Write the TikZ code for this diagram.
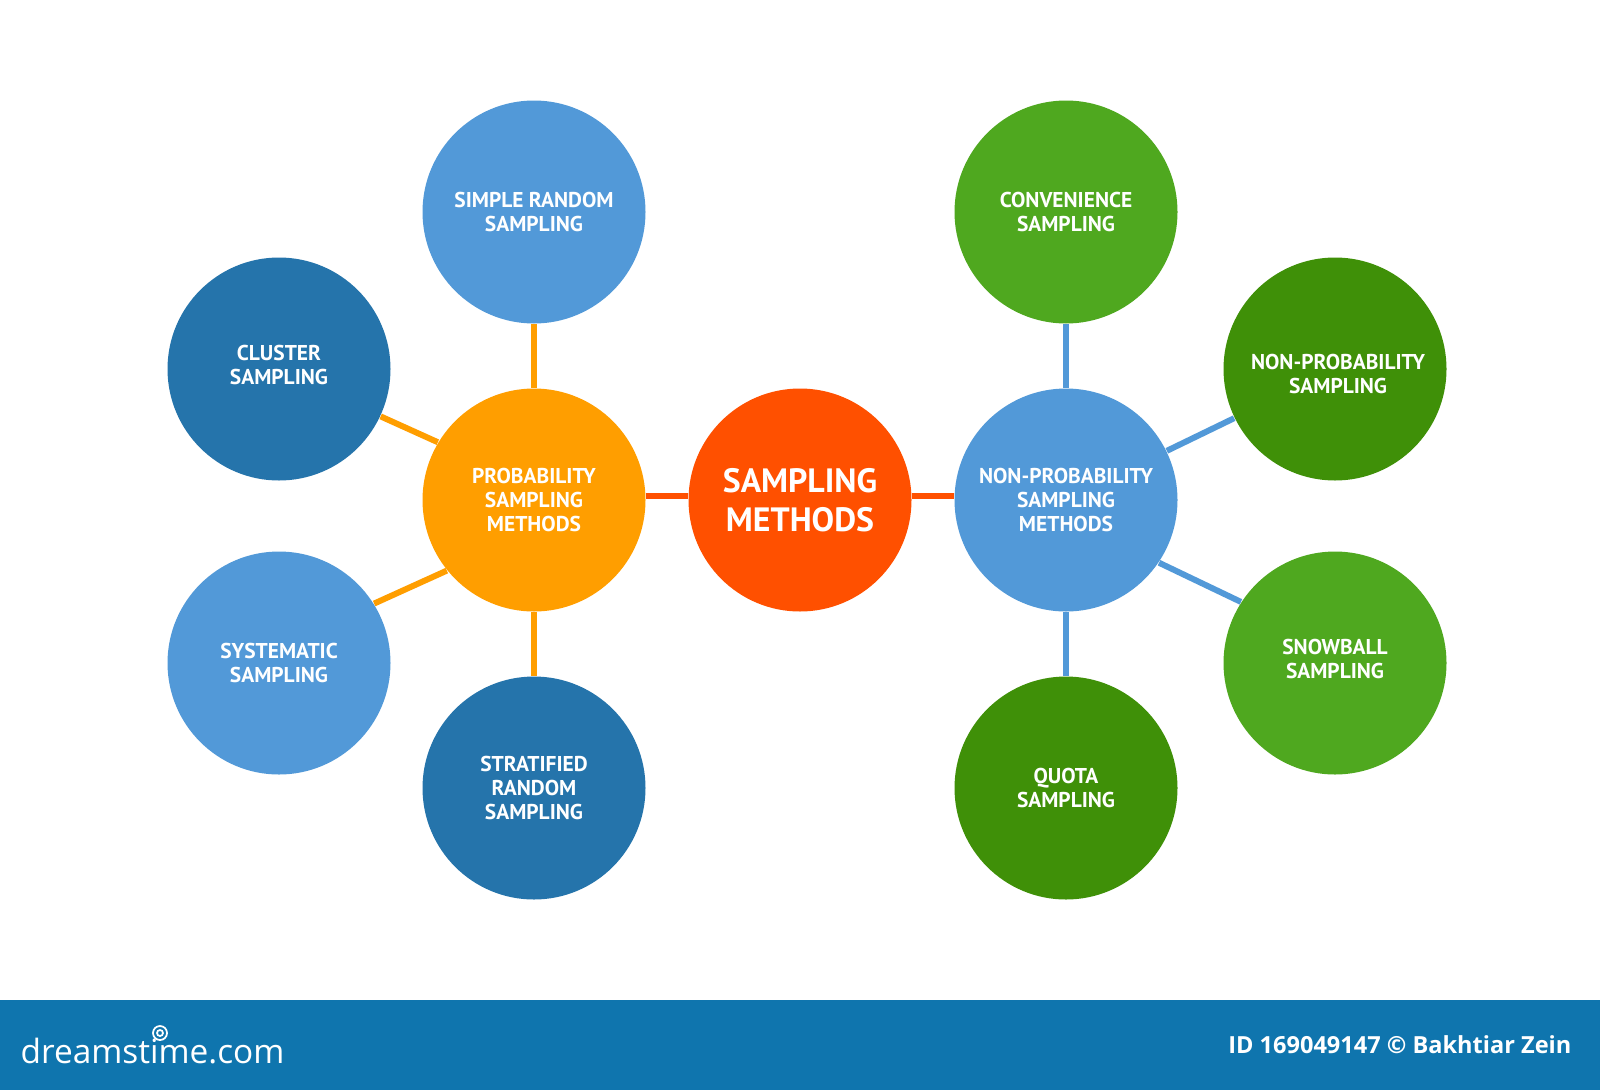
\documentclass[tikz,border=0pt]{standalone}
\usepackage{fontspec}
\setmainfont{PT Sans}
\newfontfamily\footfont{Open Sans}
\definecolor{skyblue}{HTML}{5299D8}
\definecolor{deepblue}{HTML}{2574AB}
\definecolor{amber}{HTML}{FF9E00}
\definecolor{redorange}{HTML}{FF5000}
\definecolor{leafgreen}{HTML}{4FA81F}
\definecolor{deepgreen}{HTML}{3F9008}
\definecolor{footblue}{HTML}{0F75AE}
\tikzset{
	bubble/.style={circle, minimum size=2.23cm, inner sep=0pt, align=center, text=white, font=\fontsize{6.1}{6.95}\selectfont\bfseries},
	shifted/.style={align=center, text=white, inner sep=0pt, font=\fontsize{6.1}{6.95}\selectfont\bfseries},
	link/.style={line width=1.7pt},
}
\begin{document}
\begin{tikzpicture}
	\fill[white] (0,0) rectangle (16,10.9);
	\useasboundingbox (0,0) rectangle (16,10.9);
	% footer band
	\fill[footblue] (0,0) rectangle (16,0.9);
	\node[text=white, anchor=west, inner sep=0pt, font=\footfont\fontsize{9.5}{11}\selectfont] (site) at (0.2,0.39) {dreamstime.com};
	\node[text=white, anchor=east, inner sep=0pt, font=\footfont\fontsize{6.7}{8}\selectfont\bfseries] (credit) at (15.72,0.45) {ID 169049147 © Bakhtiar Zein};
	\draw[white, line width=0.5pt] (1.6,0.57) circle (0.07) (1.6,0.57) circle (0.03);
	% centre row
	\node[bubble, fill=redorange, font=\fontsize{9.6}{11.1}\selectfont\bfseries] (main) at (8,5.9) {SAMPLING\\METHODS};
	\node[bubble, fill=amber] (prob) at (5.34,5.9) {PROBABILITY\\SAMPLING\\METHODS};
	\node[bubble, fill=skyblue] (nonprob) at (10.66,5.9) {NON-PROBABILITY\\SAMPLING\\METHODS};
	% left group
	\node[bubble, fill=skyblue] (simple) at (5.34,8.78) {SIMPLE RANDOM\\SAMPLING};
	\node[bubble, fill=deepblue, label={[shifted, yshift=0.04cm]center:{CLUSTER\\SAMPLING}}] (cluster) at (2.79,7.21) {};
	\node[bubble, fill=skyblue] (systematic) at (2.79,4.27) {SYSTEMATIC\\SAMPLING};
	\node[bubble, fill=deepblue] (stratified) at (5.34,3.02) {STRATIFIED\\RANDOM\\SAMPLING};
	% right group
	\node[bubble, fill=leafgreen] (convenience) at (10.66,8.78) {CONVENIENCE\\SAMPLING};
	\node[bubble, fill=deepgreen, label={[shifted, xshift=0.03cm, yshift=-0.05cm]center:{NON-PROBABILITY\\SAMPLING}}] (nonprobsamp) at (13.35,7.21) {};
	\node[bubble, fill=leafgreen, label={[shifted, yshift=0.04cm]center:{SNOWBALL\\SAMPLING}}] (snowball) at (13.35,4.27) {};
	\node[bubble, fill=deepgreen] (quota) at (10.66,3.02) {QUOTA\\SAMPLING};
	% links
	\draw[link, redorange] (prob.2) -- (main.178);
	\draw[link, redorange] (main.2) -- (nonprob.178);
	\draw[link, amber] (prob.north) -- (simple.south);
	\draw[link, amber] (prob.149) -- (cluster.-25);
	\draw[link, amber] (prob.219) -- (systematic.32);
	\draw[link, amber] (prob.south) -- (stratified.north);
	\draw[link, skyblue] (nonprob.north) -- (convenience.south);
	\draw[link, skyblue] (nonprob.26) -- (nonprobsamp.206);
	\draw[link, skyblue] (nonprob.-34) -- (snowball.147);
	\draw[link, skyblue] (nonprob.south) -- (quota.north);
\end{tikzpicture}
\end{document}
